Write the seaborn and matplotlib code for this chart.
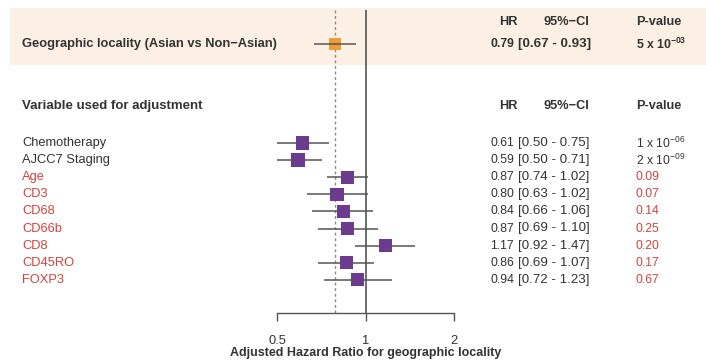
import matplotlib
matplotlib.use("Agg")
import matplotlib.pyplot as plt
import seaborn as sns
import pandas as pd
import numpy as np
from matplotlib.patches import Rectangle

# ---- data ----
main_label = "Geographic locality (Asian vs Non\u2212Asian)"
main_hr = 0.79
main_lo = 0.67
main_hi = 0.93
main_p = r"5 x 10$^{-03}$"

variables = ["Chemotherapy", "AJCC7 Staging", "Age", "CD3", "CD68", "CD66b", "CD8", "CD45RO", "FOXP3"]
hr = [0.61, 0.59, 0.87, 0.80, 0.84, 0.87, 1.17, 0.86, 0.94]
lo = [0.50, 0.50, 0.74, 0.63, 0.66, 0.69, 0.92, 0.69, 0.72]
hi = [0.75, 0.71, 1.02, 1.02, 1.06, 1.10, 1.47, 1.07, 1.23]
pvals = [r"1 x 10$^{-06}$", r"2 x 10$^{-09}$", "0.09", "0.07", "0.14", "0.25", "0.20", "0.17", "0.67"]
significant = [True, True, False, False, False, False, False, False, False]
xticks = [0.5, 1, 2]
xticklabels = ["0.5", "1", "2"]

sns.set_theme(style="white")
plt.rcParams["font.family"] = ["Liberation Sans", "DejaVu Sans"]
plt.rcParams["mathtext.default"] = "regular"

W, H = 706, 364
fig = plt.figure(figsize=(W / 100, H / 100), dpi=100)

# overlay axes in pixel coordinates for table text
tx = fig.add_axes([0, 0, 1, 1], zorder=0)
tx.set_xlim(0, W)
tx.set_ylim(H, 0)
tx.axis("off")

BLACK = "#333333"
RED = "#d2433f"
PURPLE = "#6c3b8e"
ORANGE = "#ee9c36"
GRAY = "#555555"

tx.add_patch(Rectangle((10, 8), W - 10, 57, facecolor="#fcf0e5", edgecolor="none", zorder=0))

# layout (pixel rows / columns)
y_head1 = 22
y_main = 44
y_head2 = 106
y0 = 143
dy = 17.1
rows_y = [y0 + i * dy for i in range(len(variables))]

x_label = 22
x_hr_head = 508
x_ci_head = 566
x_hr_right = 514
x_ci_left = 518
x_p = 636

def ci_text(l, u):
    return f"[{l:.2f} - {u:.2f}]"

HS = 9.2   # header size
NS = 8.8   # number size
CS = 9.6   # CI size

# top section
tx.text(x_hr_head, y_head1, "HR", ha="center", va="center", fontsize=HS, fontweight="bold", color=BLACK)
tx.text(x_ci_head, y_head1, "95%\u2212CI", ha="center", va="center", fontsize=HS, fontweight="bold", color=BLACK)
tx.text(x_p, y_head1, "P-value", ha="left", va="center", fontsize=HS, fontweight="bold", color=BLACK)
tx.text(x_label, y_main, main_label, ha="left", va="center", fontsize=9.3, fontweight="bold", color=BLACK)
tx.text(x_hr_right, y_main, f"{main_hr:.2f}", ha="right", va="center", fontsize=NS, fontweight="bold", color=BLACK)
tx.text(x_ci_left, y_main, ci_text(main_lo, main_hi), ha="left", va="center", fontsize=CS, fontweight="bold", color=BLACK)
tx.text(x_p, y_main, main_p, ha="left", va="center", fontsize=NS, fontweight="bold", color=BLACK)

# bottom section headers
tx.text(x_label, y_head2, "Variable used for adjustment", ha="left", va="center", fontsize=9.5, fontweight="bold", color=BLACK)
tx.text(x_hr_head, y_head2, "HR", ha="center", va="center", fontsize=HS, fontweight="bold", color=BLACK)
tx.text(x_ci_head, y_head2, "95%\u2212CI", ha="center", va="center", fontsize=HS, fontweight="bold", color=BLACK)
tx.text(x_p, y_head2, "P-value", ha="left", va="center", fontsize=HS, fontweight="bold", color=BLACK)

for v, h, l, u, p, s, y in zip(variables, hr, lo, hi, pvals, significant, rows_y):
    tx.text(x_label, y, v, ha="left", va="center", fontsize=9.3, color=BLACK if s else RED)
    tx.text(x_hr_right, y, f"{h:.2f}", ha="right", va="center", fontsize=NS, color=BLACK)
    tx.text(x_ci_left, y, ci_text(l, u), ha="left", va="center", fontsize=CS, color=BLACK)
    tx.text(x_p, y, p, ha="left", va="center", fontsize=NS, color=BLACK if s else RED)

# forest axes
left_px, right_px = 277, 454
top_px, bot_px = 8, 313
ax = fig.add_axes([left_px / W, 1 - bot_px / H, (right_px - left_px) / W, (bot_px - top_px) / H], zorder=2)
ax.patch.set_alpha(0)
ax.set_xscale("log")
ax.set_xlim(0.5, 2)
ax.set_ylim(bot_px, top_px)

ax.vlines(1, 10, bot_px, color="#555555", lw=1.2, zorder=1)
ax.vlines(main_hr, 10, bot_px, color="#888888", lw=1.0, linestyles=(0, (2, 2)), zorder=1)

df_main = pd.DataFrame({"hr": [main_hr], "y": [y_main]})
df = pd.DataFrame({"hr": hr, "y": rows_y})
sns.scatterplot(data=df_main, x="hr", y="y", marker="s", s=75, color=ORANGE, edgecolor="none", ax=ax, zorder=2, clip_on=False)
sns.scatterplot(data=df, x="hr", y="y", marker="s", s=92, color=PURPLE, edgecolor="none", ax=ax, zorder=3, clip_on=False)

# CI lines
ax.hlines(y_main, main_lo, main_hi, color=GRAY, lw=1.1, zorder=3)
ax.hlines(rows_y, lo, hi, color=GRAY, lw=1.1, zorder=2, clip_on=False)

for side in ["top", "right", "left"]:
    ax.spines[side].set_visible(False)
ax.spines["bottom"].set_color("#555555")
ax.spines["bottom"].set_linewidth(1.0)
ax.set_yticks([])
ax.set_xticks(xticks)
ax.set_xticklabels(xticklabels)
ax.xaxis.set_minor_locator(matplotlib.ticker.NullLocator())
ax.tick_params(axis="x", which="major", direction="out", length=6, width=1.0, color="#555555",
               pad=10, labelsize=9.3, labelcolor=BLACK, bottom=True)
ax.set_ylabel("")
ax.set_xlabel("Adjusted Hazard Ratio for geographic locality", fontsize=9.0, fontweight="bold", color=BLACK, labelpad=0)

fig.savefig("out.png", dpi=100)
